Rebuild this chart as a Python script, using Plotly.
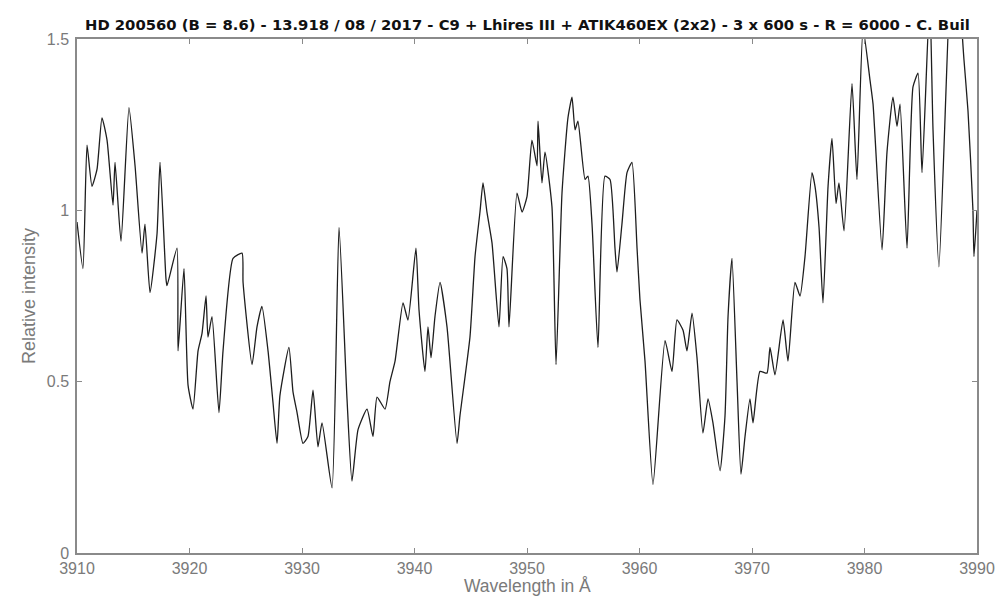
import plotly.graph_objects as go

wavelength = [
    3910.0, 3910.53, 3910.89, 3911.33, 3911.78, 3912.22, 3912.67, 3913.2, 3913.38, 3913.91,
    3914.62, 3915.16, 3915.78, 3916.04, 3916.49, 3917.11, 3917.38, 3917.91, 3918.0, 3918.89,
    3918.98, 3919.51, 3919.87, 3920.31, 3920.76, 3921.11, 3921.47, 3921.64, 3922.0, 3922.62,
    3922.98, 3923.87, 3924.67, 3924.76, 3925.56, 3926.0, 3926.44, 3926.98, 3927.42, 3927.78,
    3928.04, 3928.84, 3929.2, 3929.56, 3930.09, 3930.53, 3930.98, 3931.42, 3931.78, 3932.67,
    3933.29, 3934.0, 3934.44, 3934.98, 3935.78, 3936.31, 3936.67, 3937.38, 3937.82, 3938.27,
    3938.98, 3939.42, 3940.13, 3940.4, 3940.93, 3941.2, 3941.47, 3941.82, 3942.27, 3942.89,
    3943.78, 3944.04, 3944.93, 3945.38, 3945.82, 3946.09, 3946.44, 3946.89, 3947.51, 3947.87,
    3948.22, 3948.4, 3949.11, 3949.56, 3950.0, 3950.44, 3950.89, 3950.98, 3951.33, 3951.6,
    3952.22, 3952.58, 3953.11, 3953.64, 3954.0, 3954.27, 3954.53, 3955.16, 3955.42, 3955.78,
    3956.31, 3956.93, 3957.38, 3957.82, 3958.0, 3958.44, 3958.89, 3959.33, 3959.78, 3960.04,
    3960.49, 3961.2, 3962.27, 3962.89, 3963.33, 3963.87, 3964.22, 3964.67, 3965.11, 3965.64,
    3966.09, 3966.53, 3967.16, 3967.6, 3967.87, 3968.22, 3968.67, 3969.02, 3969.38, 3969.82,
    3970.09, 3970.71, 3971.33, 3971.6, 3972.04, 3972.76, 3973.2, 3973.82, 3974.27, 3974.71,
    3975.33, 3975.6, 3975.96, 3976.31, 3976.76, 3977.11, 3977.47, 3977.73, 3978.18, 3978.89,
    3979.33, 3979.87, 3980.49, 3980.76, 3981.56, 3982.0, 3982.53, 3982.89, 3983.16, 3983.78,
    3984.31, 3984.76, 3985.11, 3985.8, 3986.09, 3986.62, 3987.9, 3988.84, 3989.2, 3989.64,
    3989.73, 3990.0,
]
intensity = [
    0.966, 0.83, 1.19, 1.07, 1.12, 1.27, 1.205, 1.015, 1.14, 0.91,
    1.30, 1.13, 0.875, 0.96, 0.76, 0.93, 1.14, 0.80, 0.78, 0.89,
    0.59, 0.83, 0.49, 0.42, 0.59, 0.64, 0.75, 0.63, 0.69, 0.41,
    0.59, 0.86, 0.875, 0.79, 0.55, 0.66, 0.72, 0.59, 0.44, 0.32,
    0.46, 0.60, 0.47, 0.41, 0.32, 0.34, 0.475, 0.31, 0.38, 0.19,
    0.95, 0.45, 0.21, 0.36, 0.42, 0.34, 0.455, 0.42, 0.50, 0.56,
    0.73, 0.68, 0.89, 0.71, 0.53, 0.66, 0.57, 0.69, 0.79, 0.66,
    0.32, 0.40, 0.63, 0.865, 0.995, 1.08, 0.995, 0.905, 0.66, 0.865,
    0.83, 0.66, 1.05, 0.995, 1.04, 1.205, 1.13, 1.26, 1.08, 1.17,
    1.01, 0.55, 1.05, 1.27, 1.33, 1.235, 1.26, 1.09, 1.10, 0.96,
    0.60, 1.10, 1.09, 0.89, 0.82, 0.96, 1.11, 1.14, 0.89, 0.74,
    0.56, 0.20, 0.62, 0.53, 0.68, 0.65, 0.59, 0.70, 0.57, 0.35,
    0.45, 0.38, 0.24, 0.40, 0.69, 0.86, 0.50, 0.23, 0.34, 0.45,
    0.38, 0.53, 0.525, 0.60, 0.52, 0.68, 0.56, 0.79, 0.75, 0.865,
    1.11, 1.07, 0.95, 0.73, 1.07, 1.21, 1.02, 1.08, 0.94, 1.37,
    1.09, 1.53, 1.38, 1.31, 0.885, 1.17, 1.33, 1.245, 1.31, 0.89,
    1.36, 1.40, 1.11, 1.62, 1.235, 0.835, 1.85, 1.44, 1.29, 1.0,
    0.865, 1.0,
]

x_ticks = [3910, 3920, 3930, 3940, 3950, 3960, 3970, 3980, 3990]
y_ticks = [0, 0.5, 1, 1.5]
y_tick_labels = ["0", "0.5", "1", "1.5"]

title_text = ("HD 200560 (B = 8.6) - 13.918 / 08 / 2017 - C9 + Lhires III + "
              "ATIK460EX (2x2) - 3 x 600 s - R = 6000 - C. Buil")

SANS = "Liberation Sans, Arial, sans-serif"

fig = go.Figure()
fig.add_trace(go.Scatter(
    x=wavelength, y=intensity, mode="lines",
    line=dict(color="#1e1e1e", width=1.3, shape="spline", smoothing=0.5),
    showlegend=False, hoverinfo="skip",
))

axis_common = dict(
    showgrid=False, zeroline=False, showline=True, linecolor="#8a8a8a", linewidth=1.5,
    mirror="ticks", ticks="inside", ticklen=5, tickwidth=1, tickcolor="#8a8a8a",
    tickfont=dict(family=SANS, size=16, color="#7a7a7a"), automargin=False,
)

fig.update_layout(
    width=995, height=597,
    margin=dict(l=77, r=18, t=39, b=44),
    paper_bgcolor="white", plot_bgcolor="white",
    xaxis=dict(range=[3910, 3990], tickvals=x_ticks, ticktext=[str(t) for t in x_ticks],
               ticklabelstandoff=0, ticklabeloverflow="allow", **axis_common),
    yaxis=dict(range=[0, 1.5], tickvals=y_ticks, ticktext=y_tick_labels,
               ticklabelstandoff=3, **axis_common),
    annotations=[
        dict(text="<b>" + title_text + "</b>", xref="paper", yref="paper", x=0.5, y=1,
             xanchor="center", yanchor="bottom", yshift=4, showarrow=False,
             font=dict(family="DejaVu Sans, sans-serif", size=14.8, color="#111")),
        dict(text="Wavelength in Å", xref="paper", yref="paper", x=0.5, y=0,
             xanchor="center", yanchor="bottom", yshift=-45, showarrow=False,
             font=dict(family=SANS, size=17.5, color="#7a7a7a")),
        dict(text="Relative intensity", xref="paper", yref="paper", x=0, y=0.5,
             xanchor="right", yanchor="middle", xshift=-36, textangle=-90, showarrow=False,
             font=dict(family=SANS, size=18, color="#7a7a7a")),
    ],
)

fig.write_html("out.html")
